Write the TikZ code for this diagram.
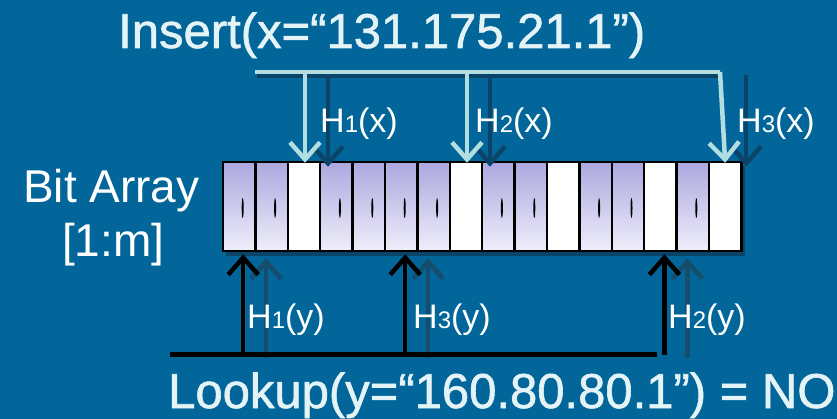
\documentclass[tikz,border=0pt]{standalone}
\usepackage{fontspec}
\setmainfont{Liberation Sans}
\newfontfamily\glowfont[FakeBold=1.2]{Liberation Sans}
\usetikzlibrary{arrows.meta}

\definecolor{slidebg}{RGB}{2,102,154}
\definecolor{celltop}{RGB}{172,168,223}
\definecolor{cellbot}{RGB}{239,238,250}
\definecolor{lightcyan}{RGB}{178,222,226}
\definecolor{insshade}{RGB}{10,68,104}
\definecolor{lookshade}{RGB}{22,76,108}
\definecolor{titletxt}{RGB}{228,244,246}

% hash label with small index digit
\newcommand{\hashlbl}[2]{H{\fontsize{24}{24}\selectfont #1}(#2)}

\tikzset{
  cellbase/.style={draw=black, line width=2.5pt, minimum width=32.4pt,
    minimum height=89pt, inner sep=0pt},
  setcell/.style={cellbase, top color=celltop, bottom color=cellbot},
  emptycell/.style={cellbase, fill=white},
  vtip/.style={-{Straight Barb[length=17pt,width=30pt]}},
  insarrow/.style={vtip, draw=lightcyan, line width=4.5pt},
  insshadow/.style={vtip, draw=insshade, line width=4.5pt},
  lookarrow/.style={vtip, draw=black, line width=4.5pt},
  lookshadow/.style={vtip, draw=lookshade, line width=4.5pt},
  hashtxt/.style={text=white, anchor=base west, inner sep=0pt,
    font=\fontsize{34}{34}\selectfont},
  bigtxt/.style={text=titletxt, anchor=base west, inner sep=0pt,
    font=\glowfont\fontsize{49}{49}\selectfont},
  sidetxt/.style={text=white, anchor=base west, inner sep=0pt,
    font=\fontsize{46}{46}\selectfont}
}

\begin{document}
\begin{tikzpicture}[x=1pt, y=-1pt]
  \fill[slidebg] (0,0) rectangle (837,419);
  \useasboundingbox (0,0) rectangle (837,419);

  % bit array with its shadow
  \fill[insshade] (226,166) rectangle (745,256);
  \foreach \i in {1,...,16}
    \node[setcell] (cell\i) at ({223+(\i-0.5)*32.4},206.5) {};
  \foreach \i in {3,8,11,14,16}
    \node[emptycell] at (cell\i) {};
  \foreach \i in {1,2,4,5,6,7,9,10,12,13,15}
    \fill ([xshift=3.5pt,yshift=-1.5pt]cell\i.center) ellipse [x radius=1pt, y radius=10pt];

  % insert line and hash arrows
  \coordinate (ins west) at (255,72);
  \coordinate (ins east) at (720,72);
  \draw[insshade, line width=4pt] ([xshift=2pt,yshift=-4pt]ins west) -- ([xshift=2pt,yshift=-4pt]ins east);
  \draw[lightcyan, line width=4.5pt] (ins west) -- (ins east);
  \foreach \c/\dx in {3/24, 8/24, 16/21}
    \draw[insshadow] ([xshift=\dx pt]cell\c.north |- 0,75) -- ([xshift=\dx pt,yshift=-6pt]cell\c.north);
  \foreach \c in {3,8}
    \draw[insarrow] ([xshift=1pt]cell\c.north |- ins west) -- ([xshift=1pt,yshift=-2pt]cell\c.north);
  \draw[insarrow] (ins east) -- ([yshift=-2pt]cell16.north);

  % lookup line and hash arrows
  \coordinate (look west) at (170,354.5);
  \coordinate (look east) at (657,354.5);
  \foreach \c in {1,6,14}
    \draw[lookshadow] ([xshift=27pt]cell\c.south |- 0,358) -- ([xshift=27pt,yshift=-6pt]cell\c.south);
  \draw[black, line width=5pt] (look west) -- (look east);
  \foreach \c in {1,6,14}
    \draw[lookarrow] ([xshift=4pt]cell\c.south |- look east) -- ([xshift=4pt,yshift=-2pt]cell\c.south);

  % labels
  \node[hashtxt] (h1x) at (320,133) {\hashlbl{1}{x}};
  \node[hashtxt] (h2x) at (475,133) {\hashlbl{2}{x}};
  \node[hashtxt] (h3x) at (737,133) {\hashlbl{3}{x}};
  \node[hashtxt] (h1y) at (247,328) {\hashlbl{1}{y}};
  \node[hashtxt] (h3y) at (413,328) {\hashlbl{3}{y}};
  \node[hashtxt] (h2y) at (668,328) {\hashlbl{2}{y}};

  \node[sidetxt] (bitarr) at (23,203) {Bit Array};
  \node[sidetxt] (range) at (62,257) {[1:m]};

  \node[bigtxt] (insert) at (118,48) {Insert(x=“131.175.21.1”)};
  \node[bigtxt] (lookup) at (168,408) {Lookup(y=“160.80.80.1”) = NO};
\end{tikzpicture}
\end{document}
